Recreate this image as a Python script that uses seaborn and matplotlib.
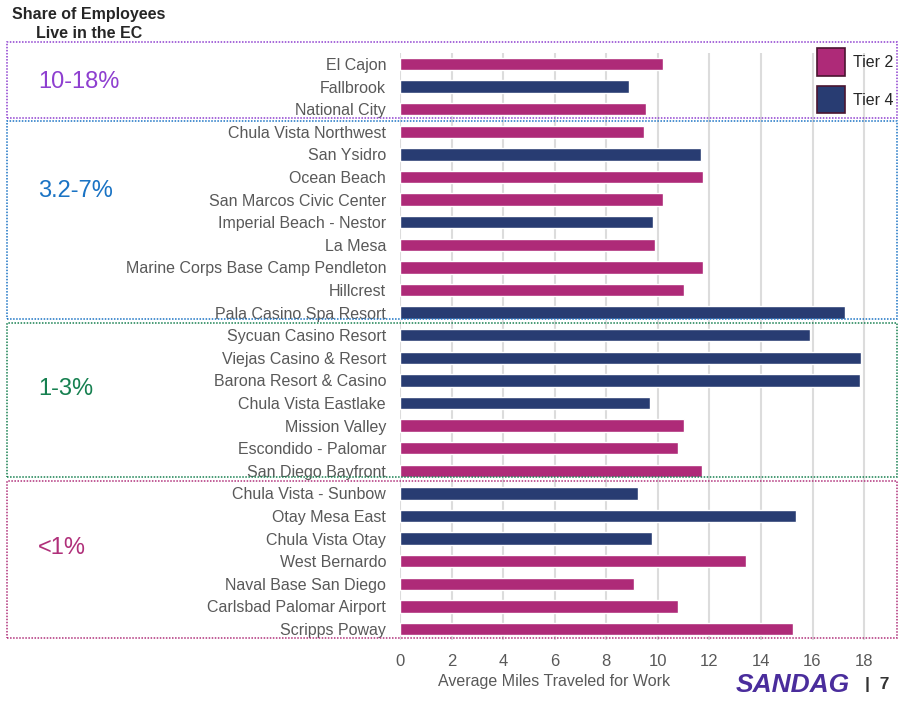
import matplotlib
matplotlib.use("Agg")
import matplotlib.pyplot as plt
from matplotlib.patches import Rectangle, Patch
import seaborn as sns
import pandas as pd

# bar data, top to bottom as in the chart
sites = ["El Cajon", "Fallbrook", "National City",
         "Chula Vista Northwest", "San Ysidro", "Ocean Beach", "San Marcos Civic Center",
         "Imperial Beach - Nestor", "La Mesa", "Marine Corps Base Camp Pendleton",
         "Hillcrest", "Pala Casino Spa Resort",
         "Sycuan Casino Resort", "Viejas Casino & Resort", "Barona Resort & Casino",
         "Chula Vista Eastlake", "Mission Valley", "Escondido - Palomar", "San Diego Bayfront",
         "Chula Vista - Sunbow", "Otay Mesa East", "Chula Vista Otay", "West Bernardo",
         "Naval Base San Diego", "Carlsbad Palomar Airport", "Scripps Poway"]
miles = [10.2, 8.9, 9.55,
         9.45, 11.67, 11.76, 10.21, 9.82, 9.9, 11.76, 11.01, 17.27,
         15.9, 17.88, 17.84, 9.71, 11.03, 10.77, 11.73,
         9.24, 15.36, 9.78, 13.43, 9.09, 10.77, 15.25]
tiers = ["Tier 2", "Tier 4", "Tier 2",
         "Tier 2", "Tier 4", "Tier 2", "Tier 2", "Tier 4", "Tier 2", "Tier 2", "Tier 2", "Tier 4",
         "Tier 4", "Tier 4", "Tier 4", "Tier 4", "Tier 2", "Tier 2", "Tier 2",
         "Tier 4", "Tier 4", "Tier 4", "Tier 2", "Tier 2", "Tier 2", "Tier 2"]

group_labels = ["10-18%", "3.2-7%", "1-3%", "<1%"]
group_colors = ["#8E3FD0", "#1A73C4", "#168050", "#B0307A"]
# box edges in pixels (x0, y0, x1, y1) and label centre y
group_boxes = [(7, 42, 897, 118), (7, 121, 897, 319), (7, 323, 897, 477), (7, 481, 897, 638)]
group_label_y = [82, 191, 389, 548]

tier_colors = {"Tier 2": "#AE2A78", "Tier 4": "#283C72"}

W, H = 916, 711
sns.set_style("white")
plt.rcParams["font.family"] = ["Liberation Sans", "DejaVu Sans"]

fig = plt.figure(figsize=(W / 100, H / 100), dpi=100)
ax = fig.add_axes([400 / W, 1 - 640.3 / H, 495 / W, (640.3 - 52.7) / H])

df = pd.DataFrame({"site": sites, "miles": miles, "tier": tiers})
sns.barplot(data=df, x="miles", y="site", hue="tier", hue_order=["Tier 2", "Tier 4"],
            palette=tier_colors, saturation=1, dodge=False, width=0.55, orient="h",
            ax=ax, legend=False)

ax.set_xlim(0, 19.2)
ax.set_ylim(25.5, -0.5)
ax.set_xticks(range(0, 19, 2))
ax.xaxis.grid(True, color="#DCDCDC", linewidth=1.5)
ax.set_axisbelow(True)
for s in ax.spines.values():
    s.set_visible(False)
ax.tick_params(axis="y", length=0, pad=10, labelsize=11.5, labelcolor="#595959")
ax.tick_params(axis="x", length=0, pad=10, labelsize=12, labelcolor="#595959")
ax.set_ylabel("")
ax.set_xlabel("Average Miles Traveled for Work", fontsize=11.5, color="#595959")
ax.xaxis.set_label_coords((554 - 400) / 495, -0.058)

# dotted group boxes and labels
for lab, col, box, ly in zip(group_labels, group_colors, group_boxes, group_label_y):
    x0, y0, x1, y1 = box
    fig.add_artist(Rectangle((x0 / W, 1 - y1 / H), (x1 - x0) / W, (y1 - y0) / H,
                             transform=fig.transFigure, fill=False, edgecolor=col,
                             linestyle=(0, (1, 1)), linewidth=1.1))
    fig.text(38 / W, 1 - ly / H, lab, color=col, fontsize=17, ha="left", va="center")

# legend
handles = [Patch(facecolor=tier_colors[t], edgecolor="#4A1530", linewidth=1.2, label=t)
           for t in ["Tier 2", "Tier 4"]]
fig.legend(handles=handles, loc="upper right", bbox_to_anchor=(908 / W, 1 - 34 / H),
           frameon=False, fontsize=11.5, handlelength=1.75, handleheight=2.25,
           labelspacing=0.65, handletextpad=0.5)

# title
fig.text(89 / W, 1 - 7 / H, "Share of Employees\nLive in the EC", fontsize=11.5,
         fontweight="bold", ha="center", va="top", multialignment="center", linespacing=1.3)

# footer
fig.text(793 / W, 1 - 685 / H, "SANDAG", fontsize=19, fontweight="bold", style="italic",
         color="#4A2D9C", ha="center", va="center")
fig.text(877 / W, 1 - 685 / H, "|  7", fontsize=12.5, fontweight="bold",
         color="#333333", ha="center", va="center")

fig.savefig("out.png", dpi=100)
